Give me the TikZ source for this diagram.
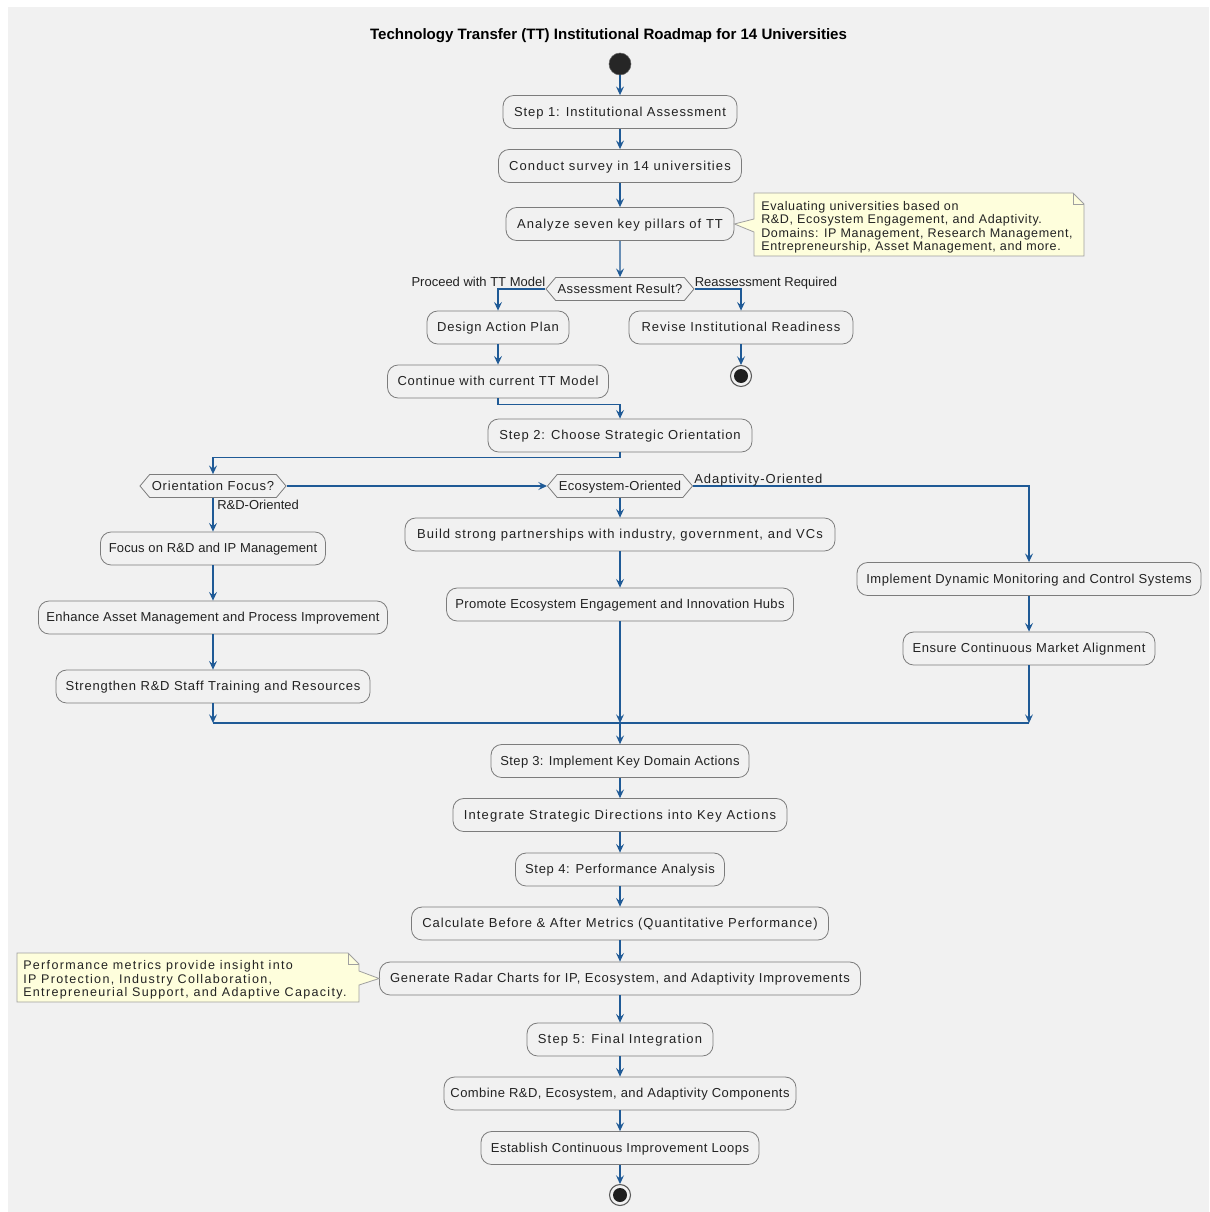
\documentclass[tikz,border=0pt]{standalone}
\usepackage{fontspec}
\setmainfont{Liberation Sans}
\newfontfamily\actfont{Liberation Sans}
\newfontfamily\notefont{Liberation Sans}
\usetikzlibrary{arrows.meta,shapes.symbols,calc}
\definecolor{bg}{HTML}{F1F1F1}
\definecolor{flow}{HTML}{1F5A96}
\definecolor{boxline}{HTML}{7C7C7C}
\definecolor{notefill}{HTML}{FEFEDC}
\definecolor{noteline}{HTML}{A0A0A0}
\definecolor{ink}{HTML}{222222}
\begin{document}
\begin{tikzpicture}[x=0.75pt,y=-0.75pt,
  ls/.style={font=\actfont\addfontfeatures{LetterSpace=#1}\fontsize{9.75}{11}\selectfont},
  act/.style={draw=boxline, line width=0.6pt, fill=bg, rounded corners=8pt,
    minimum height=33*0.75pt, minimum width=#1*0.75pt, inner sep=0pt,
    text height=7pt, text depth=0.3pt, ls=6, text=ink},
  dec/.style={draw=boxline, line width=0.6pt, fill=bg, shape=signal,
    signal to=west and east, signal pointer angle=100,
    minimum height=23*0.75pt, minimum width=#1*0.75pt, inner sep=0pt,
    text height=7pt, text depth=0.3pt, ls=6, text=ink},
  flowarrow/.style={draw=flow, line width=0.8pt,
    -{Stealth[length=6.5pt,width=6pt,inset=2.5pt]}},
  lbl/.style={font=\fontsize{9.75}{11}\selectfont, text=ink, inner sep=0pt},
  notetext/.style={align=left, anchor=north west, inner sep=0pt, text=ink},
  notebox/.style={fill=notefill, draw=noteline, line width=0.6pt},
  startnode/.style={circle, fill=black!85, draw=black!60, minimum size=22*0.75pt, inner sep=0pt},
  endnode/.style={circle, fill=bg, draw=black!65, line width=0.8pt, minimum size=21*0.75pt, inner sep=0pt},
]
\useasboundingbox (0,0) rectangle (1209,1212);
\fill[white] (0,0) rectangle (1209,1212);
\fill[bg] (8,7) rectangle (1209,1212);

% title
\node[font=\bfseries\fontsize{11.3}{13}\selectfont, text=black] (title) at (608.5,36)
  {Technology Transfer (TT) Institutional Roadmap for 14 Universities};

% step 1
\node[startnode] (start) at (620,64) {};
\node[act=234, ls=7] (s1) at (620,112) {Step 1: Institutional Assessment};
\node[act=243, ls=8.5] (survey) at (620,166) {Conduct survey in 14 universities};
\node[act=228, ls=8] (analyze) at (620,224) {Analyze seven key pillars of TT};
\node[dec=148, ls=3] (dec1) at (620,289) {Assessment Result?};
\node[act=142] (design) at (498,327.5) {Design Action Plan};
\node[act=224, ls=7] (revise) at (741,327.5) {Revise Institutional Readiness};
\node[endnode] (end1) at (741,376) {};
\fill[black!88] (end1.center) circle (7);
\node[act=221] (cont) at (498,381.5) {Continue with current TT Model};

% step 2
\node[act=264, ls=7] (step2) at (620,435.5) {Step 2: Choose Strategic Orientation};
\node[dec=146] (focus) at (213,486) {Orientation Focus?};
\node[dec=145, ls=2] (eco) at (620,486) {Ecosystem-Oriented};
\node[act=225, ls=1] (rd) at (213,548.5) {Focus on R\&D and IP Management};
\node[act=349, ls=2] (enh) at (213,617.5) {Enhance Asset Management and Process Improvement};
\node[act=314] (str) at (213,686.5) {Strengthen R\&D Staff Training and Resources};
\node[act=430, ls=8] (build) at (620,534.5) {Build strong partnerships with industry, government, and VCs};
\node[act=347, ls=2.3] (promo) at (620,604.5) {Promote Ecosystem Engagement and Innovation Hubs};
\node[act=344, ls=4] (dyn) at (1029,579) {Implement Dynamic Monitoring and Control Systems};
\node[act=252, ls=4.5] (ensure) at (1029,648.5) {Ensure Continuous Market Alignment};
\coordinate (mL) at (213,723);
\coordinate (mM) at (620,723);
\coordinate (mR) at (1029,723);

% steps 3 to 5
\node[act=258, ls=3] (step3) at (620,761) {Step 3: Implement Key Domain Actions};
\node[act=334, ls=9] (integ) at (620,815) {Integrate Strategic Directions into Key Actions};
\node[act=209, ls=5.5] (step4) at (620,869.5) {Step 4: Performance Analysis};
\node[act=417, ls=7.5] (calc) at (620,923.5) {Calculate Before \& After Metrics (Quantitative Performance)};
\node[act=481] (radar) at (620,978.5) {Generate Radar Charts for IP, Ecosystem, and Adaptivity Improvements};
\node[act=186, ls=9] (step5) at (620,1039.5) {Step 5: Final Integration};
\node[act=352, ls=3.4] (combine) at (620,1093.5) {Combine R\&D, Ecosystem, and Adaptivity Components};
\node[act=278, ls=4] (establish) at (620,1148) {Establish Continuous Improvement Loops};
\node[endnode] (end2) at (620,1195) {};
\fill[black!88] (end2.center) circle (7);

% notes
\draw[notebox] (754,193) -- (1073,193) -- (1084,204) -- (1084,256) -- (754,256)
  -- (754,232) -- (analyze.east) -- (754,219) -- cycle;
\draw[noteline, line width=0.6pt] (1073,193) -- (1073,204) -- (1084,204);
\node[notetext, font=\notefont\addfontfeatures{LetterSpace=5}\fontsize{9.4}{10}\selectfont]
  (note1) at (761,201) {Evaluating universities based on\\
  R\&D, Ecosystem Engagement, and Adaptivity.\\
  Domains: IP Management, Research Management,\\
  Entrepreneurship, Asset Management, and more.};

\draw[notebox] (17,953) -- (348,953) -- (359,964) -- (359,971) -- (radar.west)
  -- (359,985) -- (359,1002) -- (17,1002) -- cycle;
\draw[noteline, line width=0.6pt] (348,953) -- (348,964) -- (359,964);
\node[notetext, font=\notefont\addfontfeatures{LetterSpace=10.5}\fontsize{9.4}{10}\selectfont]
  (note2) at (23,960.5) {Performance metrics provide insight into\\
  IP Protection, Industry Collaboration,\\
  Entrepreneurial Support, and Adaptive Capacity.};

% connectors
\draw[flowarrow] (start) -- (s1);
\draw[flowarrow] (s1) -- (survey);
\draw[flowarrow] (survey) -- (analyze);
\draw[flowarrow] (analyze) -- (dec1);
\draw[flowarrow] (dec1.west) -| (design.north);
\node[lbl, anchor=base east] (lproceed) at ($(dec1.west)+(0,-2.5)$) {Proceed with TT Model};
\draw[flowarrow] (dec1.east) -| (revise.north);
\node[lbl, anchor=base west] (lreassess) at ($(dec1.east)+(0,-2.5)$) {Reassessment Required};
\draw[flowarrow] (revise) -- (end1);
\draw[flowarrow] (design) -- (cont);
\draw[flowarrow] (cont.south) -- ++(0,6) -| (step2.north);
\draw[flowarrow] (step2.south) -- ++(0,5) -| (focus.north);
\draw[flowarrow] (focus.east) -- (eco.west);
\draw[flowarrow] (eco.east) -| (dyn.north);
\node[lbl, anchor=base west, font=\actfont\addfontfeatures{LetterSpace=7.5}\fontsize{9.75}{11}\selectfont]
  (ladapt) at ($(eco.east)+(1,-2.5)$) {Adaptivity-Oriented};
\draw[flowarrow] (focus.south) -- (rd.north);
\node[lbl, anchor=north west] (lrd) at ($(focus.south)+(4,2)$) {R\&D-Oriented};
\draw[flowarrow] (eco.south) -- (build.north);
\draw[flowarrow] (rd) -- (enh);
\draw[flowarrow] (enh) -- (str);
\draw[flowarrow] (build) -- (promo);
\draw[flowarrow] (dyn) -- (ensure);
\draw[flowarrow] (str.south) -- (str.south |- mL);
\draw[flowarrow] (promo.south) -- (promo.south |- mM);
\draw[flowarrow] (ensure.south) -- (ensure.south |- mR);
\draw[flow, line width=1.4pt] (mL) -- (mR);
\draw[flowarrow] (mM) -- (step3.north);
\draw[flowarrow] (step3) -- (integ);
\draw[flowarrow] (integ) -- (step4);
\draw[flowarrow] (step4) -- (calc);
\draw[flowarrow] (calc) -- (radar);
\draw[flowarrow] (radar) -- (step5);
\draw[flowarrow] (step5) -- (combine);
\draw[flowarrow] (combine) -- (establish);
\draw[flowarrow] (establish) -- (end2);
\end{tikzpicture}
\end{document}
